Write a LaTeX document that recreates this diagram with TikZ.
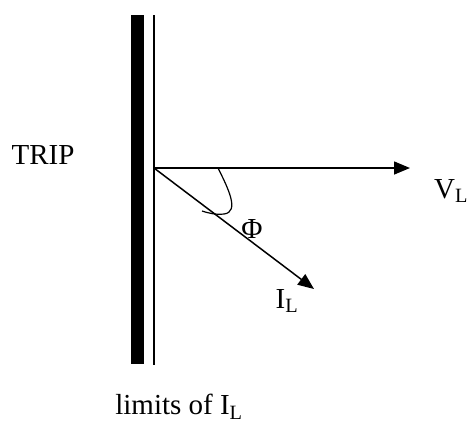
\documentclass[tikz,border=0pt]{standalone}
\usepackage{fontspec}
\setmainfont{Liberation Serif}
\usetikzlibrary{arrows.meta}
\tikzset{
  lbl/.style={inner sep=0pt, font=\fontsize{29}{31}\selectfont},
  vec/.style={line width=1.5pt, -{Triangle[length=16pt,width=13pt]}},
  thin/.style={line width=1.5pt}
}
\begin{document}
\begin{tikzpicture}[x=1pt,y=-1pt]
\useasboundingbox (0,0) rectangle (471,426);
% thick bar and thin line
\fill (131,15) rectangle (144,364);
\coordinate (top) at (154,15);
\coordinate (bot) at (154,365);
\draw[thin] (top) -- (bot);
% vectors
\coordinate (O) at (154,168);
\coordinate (V) at (410,168);
\coordinate (I) at (314,289);
\draw[vec] (O) -- (V);
\draw[vec] (O) -- (I);
% angle mark
\draw[line width=1.2pt] (218,168) .. controls (228,188) and (240,212) .. (224,214)
   .. controls (216,215) and (208,213) .. (202,211);
% labels
\node[lbl] (trip) at (43,155) {TRIP};
\node[lbl] (vl) at (451,191) {V\textsubscript{L}};
\node[lbl] (il) at (287,301) {I\textsubscript{L}};
\node[lbl] (phi) at (252,229) {Φ};
\node[lbl] (lim) at (179,407) {limits of I\textsubscript{L}};
\end{tikzpicture}
\end{document}
